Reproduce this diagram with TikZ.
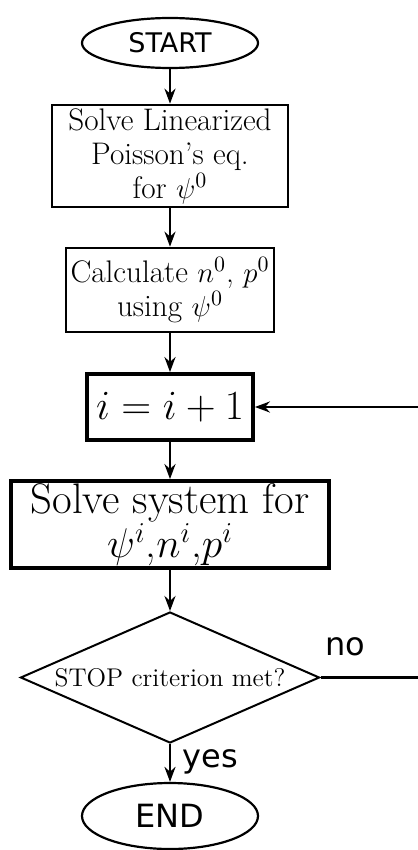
\documentclass[tikz,border=0pt]{standalone}
\usepackage{fontspec}
\newfontfamily\dejavu{DejaVu Sans}
\usetikzlibrary{shapes.geometric,arrows.meta}

\begin{document}
\begin{tikzpicture}[x=0.5pt,y=-0.5pt,
    box/.style={draw,rectangle,line width=1.3pt,align=center,inner sep=0pt,
      font=\fontsize{15.6}{17}\selectfont},
    bigbox/.style={box,line width=1.9pt},
    term/.style={draw,ellipse,line width=1.1pt,inner sep=0pt},
    decision/.style={draw,diamond,aspect=2.28,line width=1pt,inner sep=0pt,
      font=\fontsize{12.8}{15}\selectfont},
    lbl/.style={font=\dejavu\fontsize{16}{19}\selectfont,inner sep=0pt},
    flow/.style={line width=1.4pt,-{Stealth[length=7.5pt,width=5.5pt]}}]
    \useasboundingbox (0,0) rectangle (417,850);

    \node[term,minimum width=88pt,minimum height=25pt,
      font=\dejavu\fontsize{13.5}{15}\selectfont] (start) at (170,43) {START};
    \node[box,minimum width=118pt,minimum height=51pt] (linpois) at (170,156)
      {Solve Linearized\\ Poisson's eq.\\ for \( \psi^0 \)};
    \node[box,minimum width=104pt,minimum height=42pt] (calcnp) at (170,290)
      {Calculate \( n^0 \), \( p^0 \)\\ using \( \psi^0 \)};
    \node[bigbox,minimum width=83pt,minimum height=33pt,
      font=\fontsize{21}{24}\selectfont] (iter) at (170,407) {\( i = i + 1 \)};
    \node[bigbox,minimum width=159pt,minimum height=43.5pt,
      font=\fontsize{21.4}{20.5}\selectfont] (solve) at (170,524.5)
      {Solve system for\\ \( \psi^i \),\( n^i \),\( p^i \)};
    \node[decision,minimum width=149.5pt,minimum height=65.5pt] (stop) at (170,677.5)
      {STOP criterion met?};
    \node[term,minimum width=88pt,minimum height=33pt,
      font=\dejavu\fontsize{16}{19}\selectfont] (end) at (170,816) {END};
    \node[lbl,anchor=base west] (no) at (325,655) {no};
    \node[lbl,anchor=base west] (yes) at (182,767) {yes};
    \coordinate (loop) at (422,677.5);

    \draw[flow] (start) -- (linpois);
    \draw[flow] (linpois) -- (calcnp);
    \draw[flow] (calcnp) -- (iter);
    \draw[flow] (iter) -- (solve);
    \draw[flow] (solve) -- (stop);
    \draw[flow] (stop) -- (end);
    \draw[flow] (stop.east) -- (loop) |- (iter.east);
\end{tikzpicture}
\end{document}
